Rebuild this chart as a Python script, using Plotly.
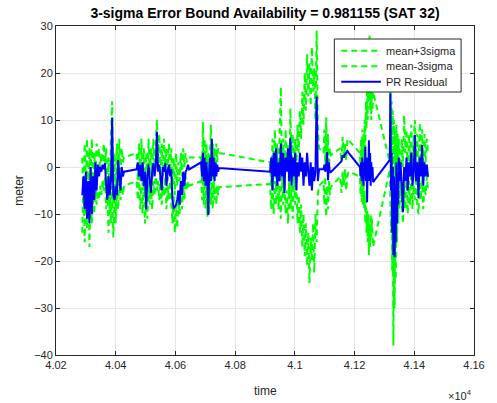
import plotly.graph_objects as go

# ---------------- data ----------------
# segment A
t_a = [40288, 40292, 40296, 40300, 40304, 40308, 40312, 40316, 40320, 40324, 40328, 40332,
       40336, 40340, 40344, 40348, 40352, 40356, 40360, 40364, 40368, 40372, 40376, 40380,
       40384, 40388, 40392, 40396, 40400, 40404, 40408, 40412, 40416, 40420, 40424, 40428]
pr_a = [-6, -2, -9, -1, -11, -3, -12, 0, -10, -2, -7, 1, -5, 0.5, -2, 0, -1, 0.5, -0.5, 0.8,
        -4, -7, -2, -6, -3, 10.4, -6, -7, -4, -6, 1.5, -3, -5, 0, -2, -1]
up_a = [2, -8, 5, -4, 6, -6, 4, -2, 6, -5, 3, -1, 5, 2, 4, -1, 3, 1, 5, 0, 4, -6, 2, -9,
        6, 14, -8, 3, -10, 5, -3, 6, -2, 4, 1, 2]
lo_a = [-14, -2, -16, -4, -13, -1, -17, -3, -12, -6, -10, -3, -8, -5, -7, -4, -6, -3, -5, -2,
        -9, -4, -14, -2, -12, -4, -15, -6, -12, -3, -9, -2, -7, -4, -6, -4]

# segment B
t_b = [40470, 40474, 40478, 40482, 40486, 40490, 40494, 40498, 40502, 40506, 40510, 40514,
       40518, 40522, 40526, 40530, 40534, 40538, 40542, 40546, 40550, 40554, 40558, 40562,
       40566, 40570, 40574, 40578, 40582, 40586, 40590, 40594, 40598, 40602, 40606, 40610,
       40614, 40618, 40622, 40626, 40630, 40634, 40638, 40642, 40646]
pr_b = [-0.5, 1, -2, 0.5, -3, 1, -4, -1, -9, -2, 0.5, -3, -5.5, -1, 0.8, -2, 0, 7.5, -1, 0.5,
        -2, -5, 0, -1, 0.8, -4, -1, 0.5, -2, -0.5, -7, -8.7, -8.5, -8, -7, -5, -8, -3, -6, -1,
        -4, -1, -0.5, 0.5, -0.5]
up_b = [3, -3, 5, -2, 6, -4, 4, -6, 3, -3, 6, -2, 4, -4, 6, 0, 5, 10, 2, 7, -3, 5, -2, 6, 0,
        4, -3, 5, -1, 4, -5, 2, -6, 3, -4, 1, -3, 3, -2, 4, 0, 3, 1, 2, 2]
lo_b = [-3, -7, -2, -9, -4, -10, -3, -12, -5, -11, -3, -8, -4, -9, -3, -6, -2, -5, -3, -7, -2,
        -8, -4, -6, -2, -9, -4, -7, -3, -9, -12, -6, -14, -8, -13, -7, -10, -4, -9, -3, -7, -2,
        -5, -3, -4]

# segment C
t_c = [40686, 40689, 40692, 40695, 40698, 40701, 40704, 40707, 40710, 40713, 40716, 40719,
       40722, 40725, 40728, 40731, 40734, 40737, 40740, 40743, 40746]
pr_c = [1, -2, 3, -3, 2, -4, 1, -3, -10.2, -1, 2, -3, 6, -2, 2, -3, 1, -2, 0.5, -1, -0.2]
up_c = [2, -3, 9.6, -2, 6, -4, 5, -5, 3, -3, 4, 9, -2, 5, -4, 4, -1, 5, 1, 4, 3]
lo_c = [-3, -7, -2, -8, -3, -9, -2, -10.6, -4, -10, -3, -8, -2, -9, -3, -7, -4, -8, -4, -6, -4.3]

# segment D
t_d = [40917, 40921, 40925, 40929, 40933, 40937, 40941, 40945, 40949, 40953, 40957, 40961,
       40965, 40969, 40973, 40977, 40981, 40985, 40989, 40993, 40997, 41001, 41005, 41009,
       41013, 41017, 41021, 41025, 41029, 41033, 41037, 41041, 41045, 41049, 41053, 41057,
       41061, 41065, 41069, 41073, 41077, 41081]
pr_d = [-1, 2, -5, 3, -2, 4, -4, 1, -3, 5, -2, 3, -5.5, 2, -1, 4, -3, 6.2, -4, 2, -2, 3, -5, 1,
        -2, 3, -1, 2, -4, 1, -2, 3, -1, -4, 1, -5, 0, -3, -1, 15, -3, -0.5]
up_d = [1, -4, 6, -2, 8, -5, 5, -3, 7, 17, -2, 6, -4, 8, -1, 5, -6, 12.5, -2, 7, -3, 6, -1, 9,
        3, 12, 6, 16, 9, 20, 12, 24, 15, 22, 13, 25.5, 16, 21, 10, 29, 8, 4]
lo_d = [-3.6, -9, -2, -10, -3, -8, 1, -9, -4, -11, -2, -8, -3, -10, -5, -12, -3, -9, -4, -11,
        -2, -8, -4, -12, -6, -14, -8, -17, -10, -19, -12, -21, -14, -24.7, -15, -20, -12, -22.5,
        -10, -16, -6, -4]

# small cluster near 4.11e4
t_e1 = [41096, 41099, 41102, 41105, 41108, 41111, 41114, 41117, 41120]
pr_e1 = [-0.5, 0.5, -1, 0, 3.2, -2.8, 1, -1, -1.1]
up_e1 = [3, 8, 0, 10.6, 2, 7, -1, 4, 2.5]
lo_e1 = [-3, -8, -2, -10.6, -4, -9, -3, -6, -4.3]

# small cluster near 4.116e4
t_e2 = [41152, 41156, 41160, 41164, 41168, 41172, 41176, 41180]
pr_e2 = [1, 1.2, 2.5, 2, 2.7, 3, 3.4, 3.0]
up_e2 = [4, 1, 6.4, 2, 5, 1.5, 6, 5.7]
lo_e2 = [-2, -5.5, -1, -4, -0.5, -5, -2, -1]

# segment E
t_e = [41218, 41220, 41222, 41224, 41226, 41228, 41230, 41232, 41234, 41236, 41238, 41240,
       41242, 41244, 41246, 41248, 41250, 41252, 41254, 41256, 41258, 41260, 41262]
pr_e = [0, -2, 1, -3, 2, -1, -4, 1, -2, 4.3, -3, 2, -7.5, 1, -2, 5.7, -3, 3, -4, 1, -2, 0, -3.2]
up_e = [3, -2, 6, 0, 8, -1, 7, 2, 10, 4, 14, 8, 18, 10, 22, 14, 28, 12, 20, 10, 17, 12, 16]
lo_e = [-2, -6, -1, -7.5, -2, -8, -3, -9, -5, -12, -7, -14, -9, -16, -10, -18.7, -12, -17, -10,
        -15, -11, -16, -17]

# segment F
t_f = [41318, 41320, 41322, 41324, 41326, 41328, 41330, 41332, 41334, 41336, 41338, 41340,
       41342, 41344, 41346, 41348, 41350, 41354, 41358, 41362, 41366, 41370, 41374, 41378,
       41382, 41386, 41390, 41394, 41398, 41402, 41406, 41410, 41414, 41418, 41422, 41426,
       41430, 41434, 41438, 41442, 41446]
pr_f = [1.5, 15.7, -5, 3, -14, 0, -18.7, -2, -19.2, -4, -16, 1, -12, -2, -8, 2, -3,
        1, -4, -9.6, 0, -3, 2, -5, 1, -2, 3, -4, -1, 6.8, -3, 1, -6.6, 2, -2, 4.7, -4, 1, -2,
        0.5, -2.1]
up_f = [1, 16, 4, 14, -2, 12, -6, 10, -4, 8, -2, 9, 0, 7, -1, 6, 2,
        -1, 6, 0, 11, 3, 8, -2, 7, 1, 9, -1, 6, 10, 2, 7, -2, 9.4, 2, 8, 0, 7, 1, 6, 3]
lo_f = [-0.5, -6, -14, -8, -22, -12, -38, -18, -30, -14, -24, -8, -16, -6, -12, -4, -9,
        -3, -8, -12, -4, -9, -2, -10, -3, -8, -1, -9, -4, -7, -2, -8, -10, -3, -7, -1, -9, -4,
        -6, -2, -5]

x_tick_vals = [40200, 40400, 40600, 40800, 41000, 41200, 41400, 41600]
x_tick_text = ["4.02", "4.04", "4.06", "4.08", "4.1", "4.12", "4.14", "4.16"]
y_tick_vals = [-40, -30, -20, -10, 0, 10, 20, 30]
series_names = ["mean+3sigma", "mean-3sigma", "PR Residual"]

# ---------------- assemble ----------------
time = t_a + t_b + t_c + t_d + t_e1 + t_e2 + t_e + t_f
pr = pr_a + pr_b + pr_c + pr_d + pr_e1 + pr_e2 + pr_e + pr_f
upper = up_a + up_b + up_c + up_d + up_e1 + up_e2 + up_e + up_f
lower = lo_a + lo_b + lo_c + lo_d + lo_e1 + lo_e2 + lo_e + lo_f

GREEN = "#00ff00"
BLUE = "#0000ff"
AX = "#262626"
FONT = "Liberation Sans, Arial, Helvetica, sans-serif"
DASH = "6px,4px"

fig = go.Figure()
fig.add_trace(go.Scatter(x=time, y=upper, mode="lines", name=series_names[0],
                         line=dict(color=GREEN, width=2, dash=DASH)))
fig.add_trace(go.Scatter(x=time, y=lower, mode="lines", name=series_names[1],
                         line=dict(color=GREEN, width=2, dash=DASH)))
fig.add_trace(go.Scatter(x=time, y=pr, mode="lines", name=series_names[2],
                         line=dict(color=BLUE, width=2)))

axis_common = dict(showline=True, linecolor=AX, linewidth=1, mirror="ticks",
                   ticks="inside", ticklen=4, tickcolor=AX, showgrid=True,
                   gridcolor="#e6e6e6", gridwidth=1, zeroline=False,
                   tickfont=dict(family=FONT, size=11, color=AX))

fig.update_xaxes(range=[40200, 41600], tickvals=x_tick_vals, ticktext=x_tick_text,
                 **axis_common)
fig.update_yaxes(range=[-40, 30], tickvals=y_tick_vals, **axis_common)

# plot area in pixels: left 56, right 478, top 26, bottom 355
PL, PR_, PT, PB = 56, 478, 26, 355


def px_x(p):
    return (p - PL) / (PR_ - PL)


def px_y(p):
    return (PB - p) / (PB - PT)


# legend drawn as a box with line samples and text
shapes = [dict(type="rect", xref="paper", yref="paper",
               x0=px_x(337), x1=px_x(465), y0=px_y(92), y1=px_y(39),
               fillcolor="white", line=dict(color=AX, width=1), layer="above")]
entry_y = [50.7, 66.2, 81.7]
entry_style = [dict(color=GREEN, width=2, dash=DASH),
               dict(color=GREEN, width=2, dash=DASH),
               dict(color=BLUE, width=2)]
annotations = []
for name, yy, st in zip(series_names, entry_y, entry_style):
    shapes.append(dict(type="line", xref="paper", yref="paper",
                       x0=px_x(344), x1=px_x(384), y0=px_y(yy), y1=px_y(yy),
                       line=st, layer="above"))
    annotations.append(dict(text=name, xref="paper", yref="paper", x=px_x(387), y=px_y(yy),
                            xanchor="left", yanchor="middle", showarrow=False,
                            font=dict(family=FONT, size=11, color=AX)))

annotations += [
    dict(text="time", xref="paper", yref="paper", x=0.5, y=px_y(391),
         xanchor="center", yanchor="middle", showarrow=False,
         font=dict(family=FONT, size=12, color=AX)),
    dict(text="meter", xref="paper", yref="paper", x=px_x(18), y=0.5,
         xanchor="center", yanchor="middle", showarrow=False, textangle=-90,
         font=dict(family=FONT, size=12, color=AX)),
    dict(text="\u00d710<sup>4</sup>", xref="paper", yref="paper", x=1.0, y=px_y(395),
         xanchor="right", yanchor="middle", showarrow=False,
         font=dict(family=FONT, size=11, color=AX)),
]

fig.update_layout(
    width=497, height=403,
    margin=dict(l=PL, r=497 - PR_, t=PT, b=403 - PB),
    paper_bgcolor="white", plot_bgcolor="white",
    font=dict(family=FONT, size=11, color=AX),
    title=dict(text="<b>3-sigma Error Bound Availability = 0.981155 (SAT 32)</b>",
               x=0.5, xref="paper", y=1 - 13 / 403, yref="container",
               xanchor="center", yanchor="middle",
               font=dict(family=FONT, size=14, color="black")),
    showlegend=False,
    shapes=shapes,
    annotations=annotations,
)

fig.write_html("out.html", post_script="document.body.style.margin='0';",
               config={"displayModeBar": False})
